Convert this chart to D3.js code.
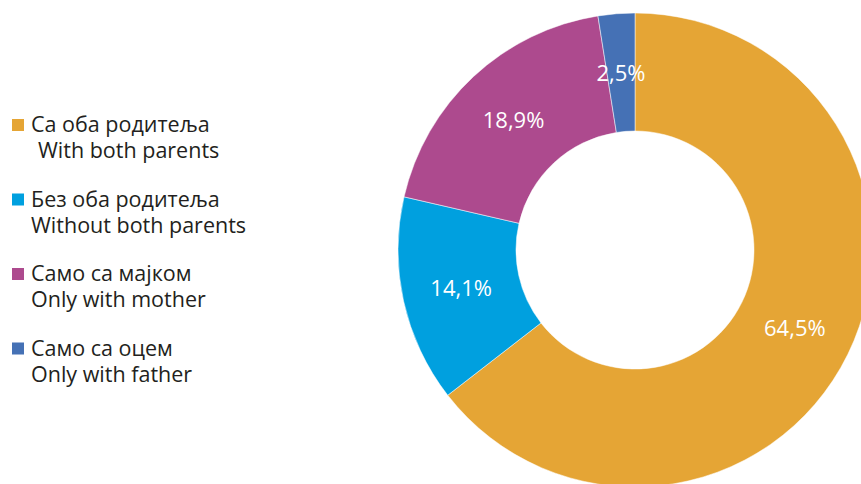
<!DOCTYPE html>
<html>
<head>
<meta charset="utf-8">
<script src="https://cdn.jsdelivr.net/npm/d3@7"></script>
<style>
  body { margin: 0; background: #fff; }
  text { font-family: "Open Sans", "Noto Sans", sans-serif; }
</style>
</head>
<body>
<div id="chart"></div>
<script>
var labelsSr = ['Са оба родитеља', 'Без оба родитеља', 'Само са мајком', 'Само са оцем'];
var labelsEn = ['With both parents', 'Without both parents', 'Only with mother', 'Only with father'];
var values = [64.5, 14.1, 18.9, 2.5];
var valueLabels = ['64,5%', '14,1%', '18,9%', '2,5%'];
var colors = ['#e5a535', '#00a0df', '#ad4a8e', '#4571b5'];

var svg = d3.select('#chart')
    .append('svg')
    .attr('width', 861)
    .attr('height', 484);

var data = values.map(function(v, i) {
    return { sr: labelsSr[i], en: labelsEn[i], value: v, label: valueLabels[i], color: colors[i] };
});

var pie = d3.pie()
    .value(d => d.value)
    .sort(null);

var arc = d3.arc()
    .innerRadius(119)
    .outerRadius(237);

var g = svg.append('g')
    .attr('transform', 'translate(635,250)');

var arcs = pie(data);

g.selectAll('path')
    .data(arcs)
    .enter()
    .append('path')
    .attr('d', arc)
    .style('fill', d => d.data.color)
    .style('stroke', '#fff')
    .style('stroke-width', 0.5);

g.selectAll('text')
    .data(arcs)
    .enter()
    .append('text')
    .attr('x', d => arc.centroid(d)[0])
    .attr('y', d => arc.centroid(d)[1] + 8)
    .text(d => d.data.label)
    .style('fill', '#fff')
    .style('font-size', '22px')
    .style('text-anchor', 'middle');

// legend
var legend = svg.append('g')
    .selectAll('g')
    .data(data)
    .enter()
    .append('g')
    .attr('transform', (d, i) => 'translate(0,' + (132 + i * 74.5) + ')');

legend.append('rect')
    .attr('x', 12)
    .attr('y', -13)
    .attr('width', 12)
    .attr('height', 12)
    .style('fill', d => d.color);

legend.append('text')
    .attr('x', 31)
    .attr('y', 0)
    .text(d => d.sr)
    .style('fill', '#231f20')
    .style('font-size', '21.5px');

legend.append('text')
    .attr('x', (d, i) => i === 0 ? 38 : 31)
    .attr('y', 26)
    .text(d => d.en)
    .style('fill', '#231f20')
    .style('font-size', '21.5px');
</script>
</body>
</html>
